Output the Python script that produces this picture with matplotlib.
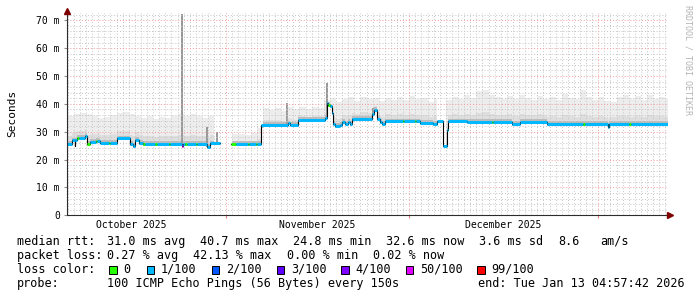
import matplotlib
matplotlib.use('Agg')
import matplotlib.pyplot as plt
import numpy as np
from matplotlib.patches import Rectangle

plt.rcParams['font.family'] = ['DejaVu Sans Mono']

# x unit: days since 2025-10-01 00:00 (Nov 1 = 31, Dec 1 = 61, Jan 1 = 92)
x_start, x_end = 4.88, 103.43
month_starts = [31, 61, 92]
month_label_pos = [15.4, 45.9, 76.4]
month_labels = ['October 2025', 'November 2025', 'December 2025']

# median rtt steps (ms) and loss bucket of each step
med_t = [4.88, 5.70, 6.11, 6.19, 6.52, 6.90, 7.83, 8.16, 8.65, 9.60, 9.80, 10.29,
         11.80, 12.00, 13.08, 15.22, 15.71, 16.03, 16.69, 17.35, 17.70, 19.30, 19.60,
         21.60, 21.80, 23.74, 23.90, 24.30, 24.60, 26.00, 26.20, 27.83, 28.33, 29.97,
         31.77, 32.60, 34.60, 34.80, 35.80, 36.10, 36.69, 41.12, 41.45, 42.76, 47.19,
         47.52, 47.70, 48.01, 48.34, 48.51, 48.83, 49.65, 49.98, 50.47, 50.97, 51.30,
         51.62, 54.90, 55.22, 55.72, 56.21, 56.54, 57.03, 59.95, 60.15, 61.90, 62.10,
         62.76, 64.90, 65.55, 66.54, 67.19, 67.36, 70.47, 74.60, 74.80, 77.85, 79.16,
         83.59, 89.50, 89.75, 93.59, 93.75, 97.10, 97.30, 103.43]
med_v = [25.5, 26.9, 25.0, 26.9, 27.7, 27.7, 28.3, 25.5, 26.3, 26.6, 26.6, 26.1,
         26.1, 26.1, 27.6, 25.5, 24.8, 27.2, 26.0, 25.5, 25.5, 25.5, 25.5,
         25.5, 25.5, 24.8, 25.5, 25.5, 25.5, 25.5, 25.5, 24.6, 25.8, np.nan,
         25.5, 25.5, 25.5, 25.5, 25.5, 25.5, 32.5, 33.0, 32.5, 34.3, 35.0,
         40.3, 39.5, 39.1, 36.7, 32.9, 32.0, 32.4, 33.5, 32.9, 33.5, 32.8,
         34.5, 36.5, 37.9, 34.7, 33.5, 32.9, 33.7, 33.7, 33.7, 33.7, 33.7,
         33.1, 32.8, 33.8, 24.8, 30.5, 33.7, 33.5, 33.5, 33.5, 32.7, 33.5,
         32.7, 32.7, 32.7, 31.7, 32.7, 32.7, 32.7, 32.7]
med_loss = [1, 1, 1, 1, 0, 1, 1, 0, 1, 0, 1, 1,
            0, 1, 1, 1, 1, 1, 1, 0, 1, 0, 1,
            0, 1, 50, 1, 0, 1, 0, 1, 1, 1, 1,
            0, 1, 0, 1, 0, 1, 1, 1, 1, 1, 1,
            1, 0, 1, 1, 1, 1, 1, 1, 1, 1, 1,
            1, 1, 1, 1, 1, 1, 1, 0, 1, 0, 1,
            1, 1, 1, 1, 1, 1, 1, 0, 1, 1, 1,
            1, 0, 1, 1, 1, 0, 1, 1]

# top of the smoke for each day (ms)
smoke_day = list(range(4, 104))
smoke_top = [35.0, 35.5, 36.5, 36.8, 36.2, 35.5, 34.8, 35.2, 36.0, 36.8,
             37.0, 36.4, 35.8, 34.9, 35.5, 34.6, 35.4, 34.8, 35.6, 36.2,
             35.8, 36.3, 35.5, 34.9, 35.6, 35.3, np.nan, np.nan, 29.0, 29.2,
             28.8, 29.4, 31.5, 38.5, 37.8, 38.6, 37.5, 38.9, 38.2, 38.8,
             38.0, 39.0, 38.4, 41.5, 42.0, 40.8, 41.8, 42.3, 41.0, 42.5,
             41.6, 42.2, 40.9, 42.0, 41.4, 42.4, 41.2, 42.8, 41.6, 42.2,
             40.8, 41.9, np.nan, 41.5, 42.6, 41.8, 43.0, 42.0, 44.5, 45.0,
             43.2, 42.4, 41.6, 42.8, 41.9, 43.0, 42.2, 41.5, 42.7, 41.8,
             42.3, 41.2, 43.5, 42.0, 41.6, 44.8, 42.4, 41.3, 42.6, 41.0,
             40.8, 42.5, 43.0, 41.7, 42.8, 41.5, 43.2, 41.9, 42.6, 41.8]

# single outlier spikes
spike_t = [23.70, 27.90, 29.50, 40.90, 47.45, 55.10]
spike_top = [72.2, 31.8, 30.0, 40.2, 47.3, 38.5]

loss_colors = {0: '#26ff00', 1: '#00b8ff', 2: '#0059ff', 3: '#5e00ff',
               4: '#7e00ff', 50: '#dd00ff', 99: '#ff0000'}
loss_names = ['0', '1/100', '2/100', '3/100', '4/100', '50/100', '99/100']

med_t = np.array(med_t)
med_v = np.array(med_v)


def step_at(ts, xs, vs):
    idx = np.searchsorted(xs, ts, side='right') - 1
    idx = np.clip(idx, 0, len(vs) - 1)
    return np.asarray(vs, dtype=float)[idx]


W, H = 697, 297
fig = plt.figure(figsize=(W / 100, H / 100), dpi=100)
fig.patch.set_facecolor('white')
ax = fig.add_axes([67 / W, 1 - 215.3 / H, 601 / W, 202.3 / H])
ax.set_xlim(x_start, x_end)
ax.set_ylim(0, 72.6)

# smoke
tt = np.union1d(np.arange(5, 104), med_t)
tt = tt[(tt >= x_start) & (tt <= x_end)]
m = step_at(tt, med_t, med_v)
top = step_at(tt, np.array(smoke_day), smoke_top)
mid = m + 0.3 * (top - m)
ax.fill_between(tt, m - 0.4, top, step='post', color='#ededed', lw=0, zorder=1)
ax.fill_between(tt, m - 0.4, mid, step='post', color='#dedede', lw=0, zorder=1.1)
ax.fill_between(tt, m - 0.6, np.minimum(m + 1.0, top), step='post', color='#bcbcbc', lw=0, zorder=1.2)

spike_base = step_at(np.array(spike_t), med_t, med_v)
ax.bar(spike_t, np.array(spike_top) - spike_base, bottom=spike_base, width=0.3,
       color='#999999', lw=0, zorder=1.3)

# median line coloured by loss
ax.step(med_t, med_v, where='post', color='black', lw=0.8, zorder=3)
ok = ~np.isnan(med_v[:-1])
hl = ax.hlines(med_v[:-1][ok], med_t[:-1][ok], med_t[1:][ok],
               colors=[loss_colors[l] for l, k in zip(med_loss[:-1], ok) if k],
               lw=2.2, zorder=4)
hl.set_capstyle('butt')

# grid
ax.set_xticks(month_starts)
ax.set_xticks(np.arange(5, 104), minor=True)
ax.set_yticks(np.arange(0, 71, 10))
ax.set_yticks(np.arange(0, 73, 2), minor=True)
ax.set_xticklabels([])
ax.set_yticklabels(['0'] + ['%d m' % v for v in range(10, 71, 10)])
ax.set_axisbelow(False)
ax.grid(which='major', color='#f29a9a', ls=(0, (1, 2)), lw=0.7)
ax.grid(which='minor', color='#c4c4c4', ls=(0, (1, 2)), lw=0.7)
ax.tick_params(axis='x', which='major', length=2.5, color='#e08080', direction='out')
ax.tick_params(axis='x', which='minor', length=0)
ax.tick_params(axis='y', which='major', length=2.2, color='#909090', direction='out',
               pad=3, labelsize=7)
ax.tick_params(axis='y', which='minor', length=0)

for s in ['top', 'right']:
    ax.spines[s].set_visible(False)
for s in ['left', 'bottom']:
    ax.spines[s].set_color('#2c2c2c')
    ax.spines[s].set_linewidth(0.8)
    ax.spines[s].set_zorder(5)
ax.plot([0], [1.012], marker='^', ms=4.2, color='#7f0000', transform=ax.transAxes,
        clip_on=False, zorder=6)
ax.plot([1.004], [0], marker='>', ms=4.2, color='#7f0000', transform=ax.transAxes,
        clip_on=False, zorder=6)

for pos, lab in zip(month_label_pos, month_labels):
    ax.text(pos, -(228 - 215.3) / 202.3, lab, transform=ax.get_xaxis_transform(),
            ha='center', va='baseline', fontsize=7)

fig.text(12 / W, 1 - 113.5 / H, 'Seconds', rotation=90, ha='center', va='center',
         fontsize=8)
fig.text(688 / W, 1 - 5 / H, 'RRDTOOL / TOBI OETIKER', rotation=270, ha='center',
         va='top', fontsize=6, color='#b4b4b4')

# legend block
fs = 8.5
rows = [245, 259, 273, 286.8]
items = [
    (rows[0], 16.7, 'median rtt:'), (rows[0], 107.3, '31.0 ms avg'),
    (rows[0], 200, '40.7 ms max'), (rows[0], 293.3, '24.8 ms min'),
    (rows[0], 386, '32.6 ms now'), (rows[0], 479.3, '3.6 ms sd'),
    (rows[0], 558.3, '8.6'), (rows[0], 600, 'am/s'),
    (rows[1], 16.7, 'packet loss:'), (rows[1], 107.3, '0.27 % avg'),
    (rows[1], 193.3, '42.13 % max'), (rows[1], 286.7, '0.00 % min'),
    (rows[1], 372.7, '0.02 % now'),
    (rows[2], 16.7, 'loss color:'),
    (rows[3], 16.7, 'probe:'), (rows[3], 107.3, '100 ICMP Echo Pings (56 Bytes) every 150s'),
    (rows[3], 478.3, 'end: Tue Jan 13 04:57:42 2026'),
]
for y, x, s in items:
    fig.text(x / W, 1 - y / H, s, fontsize=fs, va='baseline', ha='left')

sq_x = [109, 146.5, 211.5, 276.5, 341, 405.5, 477]
for x, name, key in zip(sq_x, loss_names, [0, 1, 2, 3, 4, 50, 99]):
    fig.add_artist(Rectangle((x / W, 1 - 273.5 / H), 7.5 / W, 8 / H,
                             transform=fig.transFigure, facecolor=loss_colors[key],
                             edgecolor='black', lw=0.7))
    fig.text((x + 14.5) / W, 1 - rows[2] / H, name, fontsize=fs, va='baseline', ha='left')

fig.savefig('out.png', dpi=100)
